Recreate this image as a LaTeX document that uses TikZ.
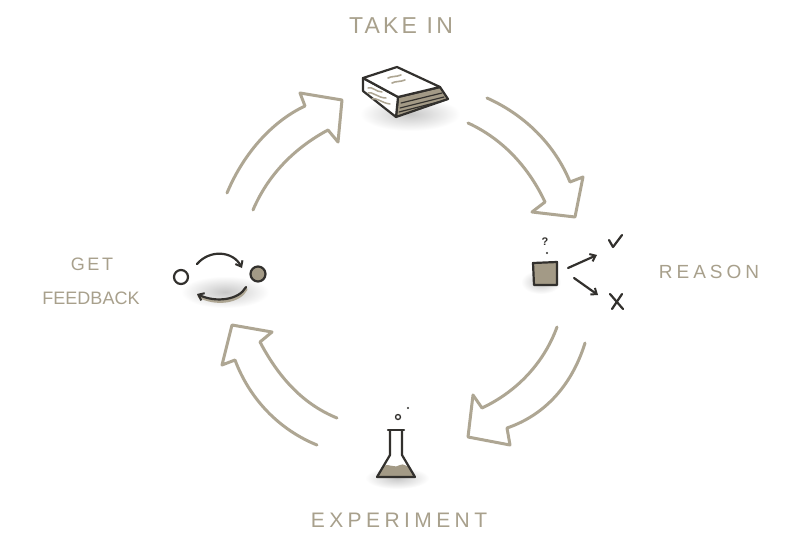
\documentclass[tikz,border=0pt]{standalone}
\usepackage{fontspec}
\setmainfont{Liberation Sans}
\usetikzlibrary{arrows.meta}
\definecolor{beige}{RGB}{174,166,147}
\definecolor{lblc}{RGB}{168,160,140}
\definecolor{ink}{RGB}{50,48,45}
\definecolor{fillb}{RGB}{163,154,134}
\tikzset{
  bigarrow/.style={draw=beige, line width=3pt, line cap=round, line join=round},
  inkline/.style={draw=ink, line width=2.2pt, line cap=round, line join=round},
  label/.style={text=lblc, inner sep=0pt},
  softshadow/.style={inner color=black!22, outer color=white},
  barb/.style={-{Straight Barb[length=5pt,width=8pt,line width=2pt]}}
}
\begin{document}
\begin{tikzpicture}[x=1pt,y=-1pt]
\useasboundingbox (0,0) rectangle (800,549);
\fill[white] (0,0) rectangle (800,549);

% ---------- labels ----------
\node[label, font=\fontsize{23}{23}\selectfont\addfontfeature{LetterSpace=14}] (takein) at (401,26) {TAKE IN};
\node[label, font=\fontsize{19}{19}\selectfont\addfontfeature{LetterSpace=21}] (reason) at (709,272) {REASON};
\node[label, font=\fontsize{21}{21}\selectfont\addfontfeature{LetterSpace=21}] (experiment) at (399,520) {EXPERIMENT};
\node[label, font=\fontsize{18}{18}\selectfont\addfontfeature{LetterSpace=14}] (get) at (92,264) {GET};
\node[label, font=\fontsize{18}{18}\selectfont\addfontfeature{LetterSpace=0}] (feedback) at (91,298) {FEEDBACK};

% ---------- big hollow arrows ----------
\draw[bigarrow] (227,193) .. controls (245,150) and (275,120) .. (305,106)
  -- (300,93) -- (342,100) -- (338,142) -- (328,130)
  .. controls (300,145) and (270,170) .. (253,210);
\draw[bigarrow] (487,98) .. controls (525,115) and (555,145) .. (570,182)
  -- (583,177) -- (575,217) -- (532,212) -- (545,202)
  .. controls (530,170) and (505,140) .. (468,123);
\draw[bigarrow] (585,343) .. controls (572,385) and (545,415) .. (507,428)
  -- (510,445) -- (468,437) -- (473,395) -- (482,408)
  .. controls (520,390) and (545,360) .. (557,327);
\draw[bigarrow] (317,445) .. controls (280,430) and (250,400) .. (235,360)
  -- (222,365) -- (232,325) -- (272,332) -- (260,342)
  .. controls (280,380) and (305,405) .. (337,418);

% ---------- shadows ----------
\shade[softshadow] (410,114) ellipse (50 and 17);
\shade[softshadow] (225,292) ellipse (44 and 16);
\shade[softshadow] (397,478) ellipse (32 and 11);
\shade[softshadow] (541,282) ellipse (20 and 12);

% ---------- book ----------
\filldraw[inkline, fill=fillb] (398,97) -- (440,87) -- (448,99) -- (396,117) -- cycle;
\draw[ink, line width=1.2pt, line cap=round] (401,103) -- (442,93);
\draw[ink, line width=1.2pt, line cap=round] (400,108) -- (444,97);
\draw[ink, line width=1.2pt, line cap=round] (399,112) -- (446,100);
\filldraw[inkline, fill=white] (363,78) -- (398,97) -- (396,117) -- (363,91) -- cycle;
\draw[beige, line width=1.5pt, line cap=round] (368,88) .. controls (372,86) and (376,92) .. (382,92);
\draw[beige, line width=1.5pt, line cap=round] (368,93) .. controls (372,91) and (378,98) .. (386,98);
\draw[beige, line width=1.5pt, line cap=round] (372,99) .. controls (376,97) and (382,103) .. (390,104);
\filldraw[inkline, fill=white] (363,78) -- (397,67) -- (440,87) -- (398,97) -- cycle;
\draw[beige, line width=1.6pt, line cap=round] (388,78) .. controls (392,76) and (396,77) .. (401,75);
\draw[beige, line width=1.6pt, line cap=round] (392,83) .. controls (396,81) and (400,82) .. (405,80);

% ---------- feedback icon ----------
\filldraw[inkline, fill=white] (181,277) circle (7);
\filldraw[inkline, fill=fillb] (258,274) circle (7.5);
\draw[inkline, barb] (197,264) .. controls (210,249) and (233,251) .. (242,268);
\draw[beige, line width=3.4pt, line cap=round] (246,289) .. controls (239,302) and (216,305) .. (199,296);
\draw[inkline, barb] (246,287) .. controls (239,300) and (216,303) .. (197,294);

% ---------- reason icon ----------
\filldraw[inkline, fill=fillb] (533,263) -- (557,262) -- (557,285) -- (534,285) -- cycle;
\node[text=ink, font=\fontsize{11}{11}\selectfont\bfseries, inner sep=0pt] (qmark) at (545,242) {?};
\fill[ink] (547,253) circle (1.2);
\draw[inkline, barb] (568,268) -- (597,255);
\draw[inkline, barb] (574,278) -- (598,295);
\draw[inkline] (609,240) -- (613,247) -- (622,235);
\draw[inkline] (610,294) -- (623,309);
\draw[inkline] (622,294) -- (612,309);

% ---------- flask ----------
\fill[fillb] (383,466) .. controls (390,463) and (395,469) .. (400,465)
  .. controls (404,463) and (406,467) .. (409,466) -- (415,477) -- (377,477) -- cycle;
\draw[inkline] (390,431) -- (390,455) -- (377,477) -- (415,477) -- (402,455) -- (402,431);
\draw[inkline] (388,430) -- (404,430);
\draw[ink, line width=1.3pt] (398,417) circle (2.5);
\fill[ink] (408,408) circle (1.2);
\end{tikzpicture}
\end{document}
